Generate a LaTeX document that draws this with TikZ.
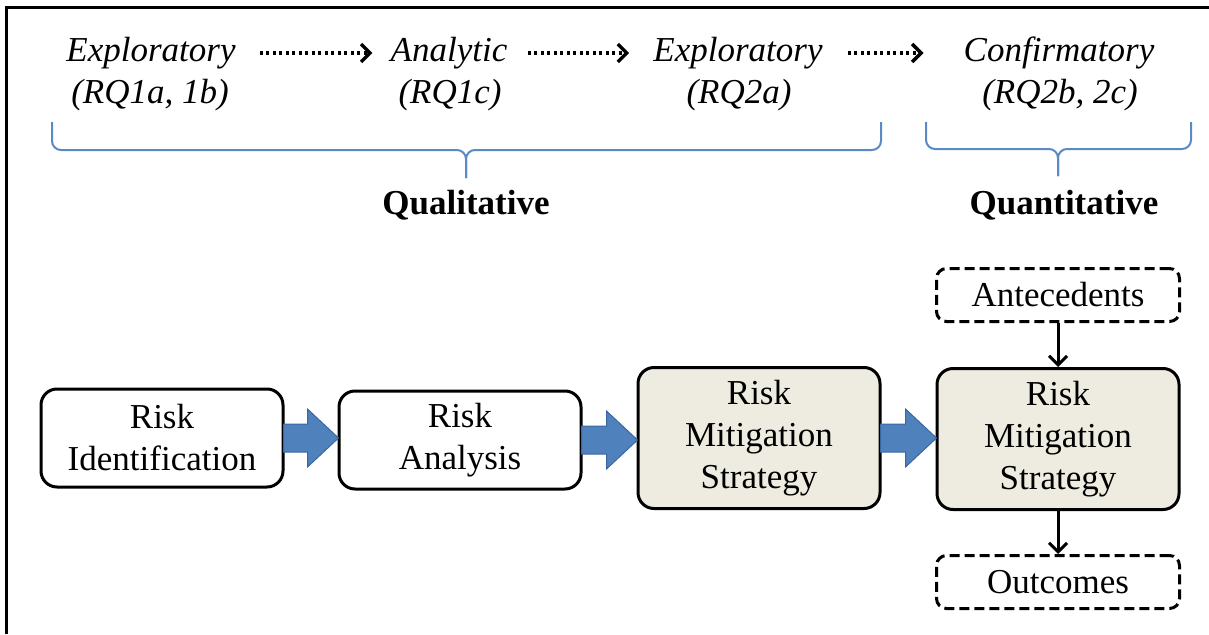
\documentclass[tikz,border=0pt]{standalone}
\usepackage{fontspec}
\setmainfont{LiberationSerif}[
  Extension=.ttf,
  UprightFont=*-Regular,
  ItalicFont=*-Italic,
  BoldFont=*-Bold,
  BoldItalicFont=*-BoldItalic]
\usetikzlibrary{arrows.meta,calc}

\definecolor{tanfill}{HTML}{EEECE1}
\definecolor{arrowblue}{HTML}{4F81BD}
\definecolor{arrowedge}{HTML}{3B67A0}
\definecolor{braceblue}{HTML}{5A8AC6}

\tikzset{
  txt/.style={font=\fontsize{35}{42}\selectfont, inner sep=0pt},
  phase/.style={txt, font=\fontsize{35}{42}\selectfont\itshape, anchor=base,
                text height=24pt, text depth=8pt},
  rqline/.style={txt, font=\fontsize{35}{42}\selectfont\itshape, anchor=base},
  methodlabel/.style={txt, font=\fontsize{35}{42}\selectfont\bfseries, anchor=base},
  stagebox/.style={draw, line width=3pt, rounded corners=16pt, align=center,
                   minimum width=242pt, minimum height=98pt, inner sep=0pt,
                   font=\fontsize{35}{42}\selectfont},
  tallbox/.style={stagebox, fill=tanfill, minimum height=141pt},
  dashbox/.style={draw, line width=3pt, rounded corners=10pt, dash pattern=on 10pt off 5pt,
                  minimum width=243pt, minimum height=53pt, inner sep=0pt,
                  font=\fontsize{35}{42}\selectfont},
  dotarrow/.style={line width=3.5pt, dash pattern=on 3pt off 3.5pt,
                   -{Straight Barb[length=9pt,width=18pt,line width=3.5pt]}},
  linkarrow/.style={line width=3pt, -{Straight Barb[length=9pt,width=18pt]}},
  blockarrow/.style={fill=arrowblue, draw=arrowedge, line width=1pt, line join=miter},
  brace/.style={draw=braceblue, line width=2pt, rounded corners=9pt},
}

\begin{document}
\begin{tikzpicture}[x=1pt, y=-1pt]
  \useasboundingbox (0,0) rectangle (1209,634);

  % frame (left and top edges)
  \draw[line width=3pt] (6,634) -- (6,8) -- (1209,8);

  % research phases
  \node[phase] (ex1) at (151,61) {Exploratory};
  \node[phase] (an1) at (449,61) {Analytic};
  \node[phase] (ex2) at (738,61) {Exploratory};
  \node[phase] (cf1) at (1059,61) {Confirmatory};
  \node[rqline] (rq1) at (150,103) {(RQ1a, 1b)};
  \node[rqline] (rq2) at (450,103) {(RQ1c)};
  \node[rqline] (rq3) at (739,103) {(RQ2a)};
  \node[rqline] (rq4) at (1060,103) {(RQ2b, 2c)};

  \draw[dotarrow, shorten <=24pt, shorten >=18pt] (ex1.east) -- (an1.west);
  \draw[dotarrow, shorten <=20pt, shorten >=24pt] (an1.east) -- (ex2.west);
  \draw[dotarrow, shorten <=25pt, shorten >=40pt] (ex2.east) -- (cf1.west);

  % braces grouping the phases
  \coordinate (qlL) at (52,122);
  \coordinate (qlR) at (881,122);
  \coordinate (qlT) at (466,178);
  \coordinate (qnL) at (926,122);
  \coordinate (qnR) at (1191,122);
  \coordinate (qnT) at (1058,176);
  \draw[brace] (qlL) |- (qlT |- 0,150) -- (qlT);
  \draw[brace] (qlR) |- (qlT |- 0,150) -- (qlT);
  \draw[brace] (qnL) |- (qnT |- 0,149) -- (qnT);
  \draw[brace] (qnR) |- (qnT |- 0,149) -- (qnT);

  \node[methodlabel] (qual) at (466,214) {Qualitative};
  \node[methodlabel] (quan) at (1064,214) {Quantitative};

  % process stages
  \node[stagebox] (rid) at (162,438) {Risk\\Identification};
  \node[stagebox] (ran) at (460,440) {Risk\\Analysis};
  \node[tallbox]  (rms1) at (759,438) {Risk\\Mitigation\\Strategy};
  \node[tallbox]  (rms2) at (1058,439) {Risk\\Mitigation\\Strategy};
  \node[dashbox]  (ante) at (1058,295) {Antecedents};
  \node[dashbox]  (outc) at (1058,582) {Outcomes};

  % block arrows between stages
  \foreach \a/\b in {rid/ran, ran/rms1, rms1/rms2} {
    \draw[blockarrow] let \p1=(\a.east), \p2=(\b.west) in
      (\x1-1,\y1+14) -- (\x2-30,\y1+14) -- (\x2-30,\y1+29) -- (\x2+1,\y1)
      -- (\x2-30,\y1-29) -- (\x2-30,\y1-14) -- (\x1-1,\y1-14) -- cycle;
  }

  % antecedents and outcomes links
  \draw[linkarrow] (ante.south) -- (rms2.north);
  \draw[linkarrow] (rms2.south) -- (outc.north);
\end{tikzpicture}
\end{document}
